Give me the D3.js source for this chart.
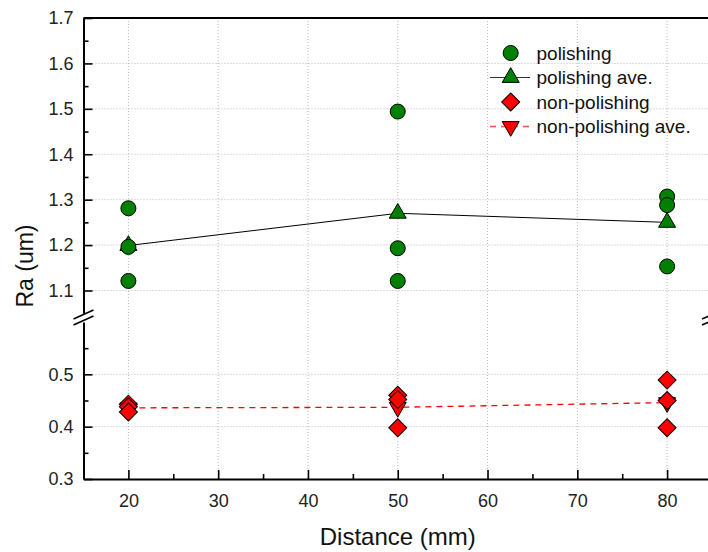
<!DOCTYPE html>
<html>
<head>
<meta charset="utf-8">
<script src="https://cdn.jsdelivr.net/npm/d3@7"></script>
<style>
  html, body { margin: 0; padding: 0; background: #fff; }
  svg { display: block; font-family: "Liberation Sans", Arial, sans-serif; }
</style>
</head>
<body>
<svg id="chart" width="708" height="552"></svg>
<script>
// ---- data ----
const distances = [20, 50, 80];
const polishingX  = [20, 20, 20, 50, 50, 50, 80, 80, 80];
const polishingRa = [1.281, 1.196, 1.121, 1.494, 1.193, 1.121, 1.307, 1.288, 1.153];
const polishingAve = [1.199, 1.270, 1.250];
const nonPolishingX  = [20, 20, 20, 50, 50, 50, 80, 80, 80];
const nonPolishingRa = [0.443, 0.438, 0.428, 0.460, 0.452, 0.398, 0.489, 0.450, 0.398];
const nonPolishingAve = [0.436, 0.437, 0.446];
const xTicks = [20, 30, 40, 50, 60, 70, 80];
const xMinor = [15, 25, 35, 45, 55, 65, 75, 85];
const yUpperTicks = [1.1, 1.2, 1.3, 1.4, 1.5, 1.6, 1.7];
const yUpperMinor = [1.15, 1.25, 1.35, 1.45, 1.55, 1.65];
const yLowerTicks = [0.3, 0.4, 0.5];
const yLowerMinor = [0.35, 0.45, 0.55];
const legendLabels = ["polishing", "polishing ave.", "non-polishing", "non-polishing ave."];

// ---- layout ----
const L = 83.5, R = 712, T = 18, B = 479;
const svg = d3.select("#chart");

const x = d3.scaleLinear().domain([15, 85]).range([L, R]);
const yUp = d3.scaleLinear().domain([1.05, 1.7]).range([313.2, T]);
const yLo = d3.scaleLinear().domain([0.3, 0.6]).range([B, 322]);

const green = "#008000", red = "#ff0000";
const gridColor = "#b8b8b8";

// ---- grid ----
const grid = svg.append("g");
grid.selectAll("line.v").data(xTicks).join("line")
  .attr("x1", d => x(d)).attr("x2", d => x(d))
  .attr("y1", T).attr("y2", B)
  .attr("stroke", gridColor).attr("stroke-width", 1).attr("stroke-dasharray", "1,2");
grid.selectAll("line.hu").data(yUpperTicks.filter(d => d < 1.7)).join("line")
  .attr("x1", L).attr("x2", R)
  .attr("y1", d => yUp(d)).attr("y2", d => yUp(d))
  .attr("stroke", gridColor).attr("stroke-width", 1).attr("stroke-dasharray", "1,2");
grid.selectAll("line.hl").data(yLowerTicks.filter(d => d > 0.3)).join("line")
  .attr("x1", L).attr("x2", R)
  .attr("y1", d => yLo(d)).attr("y2", d => yLo(d))
  .attr("stroke", gridColor).attr("stroke-width", 1).attr("stroke-dasharray", "1,2");

// ---- axes ----
function styleAxis(g, fs) {
  g.select(".domain").attr("stroke", "#000").attr("stroke-width", 2);
  g.selectAll(".tick line").attr("stroke", "#000").attr("stroke-width", 1.6);
  g.selectAll(".tick text").attr("fill", "#222").style("font-size", fs + "px")
    .style("font-family", "'Liberation Sans', Arial, sans-serif");
}

const gx = svg.append("g").attr("transform", `translate(0,${B})`)
  .call(d3.axisBottom(x).tickValues(xTicks).tickFormat(d3.format("d"))
    .tickSizeInner(-9).tickSizeOuter(0).tickPadding(15));
styleAxis(gx, 18);
const gxm = svg.append("g").attr("transform", `translate(0,${B})`)
  .call(d3.axisBottom(x).tickValues(xMinor).tickFormat("").tickSizeInner(-5).tickSizeOuter(0));
styleAxis(gxm, 18);
gxm.select(".domain").remove();

const gyu = svg.append("g").attr("transform", `translate(${L},0)`)
  .call(d3.axisLeft(yUp).tickValues(yUpperTicks).tickFormat(d3.format(".1f"))
    .tickSizeInner(-9).tickSizeOuter(0).tickPadding(10));
styleAxis(gyu, 18);
const gyum = svg.append("g").attr("transform", `translate(${L},0)`)
  .call(d3.axisLeft(yUp).tickValues(yUpperMinor).tickFormat("").tickSizeInner(-5).tickSizeOuter(0));
styleAxis(gyum, 18);
gyum.select(".domain").remove();

const gyl = svg.append("g").attr("transform", `translate(${L},0)`)
  .call(d3.axisLeft(yLo).tickValues(yLowerTicks).tickFormat(d3.format(".1f"))
    .tickSizeInner(-9).tickSizeOuter(0).tickPadding(10));
styleAxis(gyl, 18);
const gylm = svg.append("g").attr("transform", `translate(${L},0)`)
  .call(d3.axisLeft(yLo).tickValues(yLowerMinor).tickFormat("").tickSizeInner(-5).tickSizeOuter(0));
styleAxis(gylm, 18);
gylm.select(".domain").remove();

// top border and right axis (mostly off-canvas)
svg.append("line").attr("x1", L).attr("x2", R).attr("y1", T).attr("y2", T)
  .attr("stroke", "#000").attr("stroke-width", 2);
svg.append("line").attr("x1", R).attr("x2", R).attr("y1", T).attr("y2", yUp(1.05))
  .attr("stroke", "#000").attr("stroke-width", 2);
svg.append("line").attr("x1", R).attr("x2", R).attr("y1", yLo(0.6)).attr("y2", B)
  .attr("stroke", "#000").attr("stroke-width", 2);

// break marks
[L, R].forEach(ax => {
  [314.5, 320.5].forEach(cy => {
    svg.append("line")
      .attr("x1", ax - 10).attr("y1", cy + 4.5)
      .attr("x2", ax + 10).attr("y2", cy - 4.5)
      .attr("stroke", "#000").attr("stroke-width", 1.6);
  });
});

// ---- series ----
const circleSym = d3.symbol().type(d3.symbolCircle).size(Math.PI * 7.5 * 7.5);
const triSym = d3.symbol().type(d3.symbolTriangle).size(125);
const diaSym = d3.symbol().type(d3.symbolSquare).size(162);

// polishing ave line
svg.append("path")
  .datum(distances.map((d, i) => [d, polishingAve[i]]))
  .attr("fill", "none").attr("stroke", "#000").attr("stroke-width", 1)
  .attr("d", d3.line().x(d => x(d[0])).y(d => yUp(d[1])));
// non-polishing ave line
svg.append("path")
  .datum(distances.map((d, i) => [d, nonPolishingAve[i]]))
  .attr("fill", "none").attr("stroke", red).attr("stroke-width", 1.3)
  .attr("stroke-dasharray", "6,5")
  .attr("d", d3.line().x(d => x(d[0])).y(d => yLo(d[1])));

svg.append("g").selectAll("path").data(distances.map((d, i) => [d, polishingAve[i]])).join("path")
  .attr("transform", d => `translate(${x(d[0])},${yUp(d[1])})`)
  .attr("d", triSym).attr("fill", green).attr("stroke", "#000").attr("stroke-width", 1);
svg.append("g").selectAll("path").data(distances.map((d, i) => [d, nonPolishingAve[i]])).join("path")
  .attr("transform", d => `translate(${x(d[0])},${yLo(d[1])}) rotate(180)`)
  .attr("d", triSym).attr("fill", red).attr("stroke", "#000").attr("stroke-width", 1);

svg.append("g").selectAll("path").data(polishingX.map((d, i) => [d, polishingRa[i]])).join("path")
  .attr("transform", d => `translate(${x(d[0])},${yUp(d[1])})`)
  .attr("d", circleSym).attr("fill", green).attr("stroke", "#000").attr("stroke-width", 1);
svg.append("g").selectAll("path").data(nonPolishingX.map((d, i) => [d, nonPolishingRa[i]])).join("path")
  .attr("transform", d => `translate(${x(d[0])},${yLo(d[1])}) rotate(45)`)
  .attr("d", diaSym).attr("fill", red).attr("stroke", "#000").attr("stroke-width", 1);

// ---- axis titles ----
svg.append("text").attr("x", (L + R) / 2).attr("y", 545)
  .attr("text-anchor", "middle").style("font-size", "24px").attr("fill", "#111")
  .text("Distance (mm)");
svg.append("text").attr("transform", "translate(33,266) rotate(-90)")
  .attr("text-anchor", "middle").style("font-size", "23px").attr("fill", "#111")
  .text("Ra (um)");

// ---- legend ----
const lg = svg.append("g");
const rowsY = [53, 77.5, 102, 126.5];
const symX = 510.7;
// row 1
lg.append("path").attr("transform", `translate(${symX},${rowsY[0]})`)
  .attr("d", circleSym).attr("fill", green).attr("stroke", "#000");
// row 2
lg.append("line").attr("x1", 490).attr("x2", 530).attr("y1", rowsY[1]).attr("y2", rowsY[1])
  .attr("stroke", "#333").attr("stroke-width", 1);
lg.append("path").attr("transform", `translate(${symX},${rowsY[1]})`)
  .attr("d", triSym).attr("fill", green).attr("stroke", "#000");
// row 3
lg.append("path").attr("transform", `translate(${symX},${rowsY[2]}) rotate(45)`)
  .attr("d", diaSym).attr("fill", red).attr("stroke", "#000");
// row 4
lg.append("line").attr("x1", 490).attr("x2", 530).attr("y1", rowsY[3]).attr("y2", rowsY[3])
  .attr("stroke", red).attr("stroke-width", 1.3).attr("stroke-dasharray", "6,5").attr("stroke-opacity", 0.7);
lg.append("path").attr("transform", `translate(${symX},${rowsY[3]}) rotate(180)`)
  .attr("d", triSym).attr("fill", red).attr("stroke", "#000");
lg.selectAll("text").data(legendLabels).join("text")
  .attr("x", 536.5).attr("y", (d, i) => rowsY[i]).attr("dy", "0.35em")
  .style("font-size", "19px").attr("fill", "#111").text(d => d);
</script>
</body>
</html>
